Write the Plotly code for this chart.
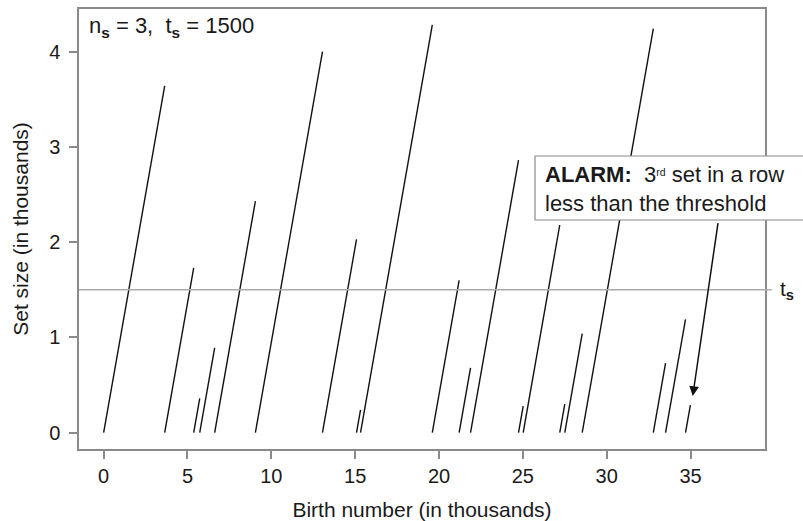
import numpy as np
import plotly.graph_objects as go

# Successive set sizes (thousands of births); each set starts where the previous ended
set_sizes = [3.64, 1.73, 0.36, 0.89, 2.43, 4.00, 2.03, 0.24, 4.28, 1.60,
             0.68, 2.86, 0.28, 2.18, 0.30, 1.04, 4.24, 0.73, 1.19, 0.29]
threshold = 1.5          # t_s in thousands
x_ticks = [0, 5, 10, 15, 20, 25, 30, 35]
y_ticks = [0, 1, 2, 3, 4]

starts = np.concatenate([[0.0], np.cumsum(set_sizes)[:-1]])

xs, ys = [], []
for s, n in zip(starts, set_sizes):
    xs += [s, s + n, None]
    ys += [0, n, None]

FONT = "Liberation Sans, Arial, sans-serif"
TXT = "#1a1a1a"
FRAME = "#8a8a8a"

fig = go.Figure()
fig.add_trace(go.Scatter(x=xs, y=ys, mode="lines",
                         line=dict(color="#111111", width=1.4),
                         showlegend=False, hoverinfo="skip"))

axis_common = dict(showline=True, mirror=True, linecolor=FRAME, linewidth=1.5,
                   ticks="outside", ticklen=8, tickwidth=1.5, tickcolor=FRAME,
                   showgrid=False, zeroline=False, automargin=False,
                   tickfont=dict(family=FONT, size=20, color=TXT))

fig.update_layout(
    width=803, height=521,
    margin=dict(l=79, r=38, t=9, b=72),
    paper_bgcolor="white", plot_bgcolor="white",
    xaxis=dict(range=[-1.47, 39.44], tickvals=x_ticks,
               title=dict(text="Birth number (in thousands)", standoff=20,
                          font=dict(family=FONT, size=21, color=TXT)),
               **axis_common),
    yaxis=dict(range=[-0.171, 4.447], tickvals=y_ticks,
               ticklabelstandoff=5,
               title=dict(text="Set size (in thousands)", standoff=15,
                          font=dict(family=FONT, size=21, color=TXT)),
               **axis_common),
)

# threshold line, running a little past the right frame
fig.add_shape(type="line", xref="paper", yref="y", x0=0, x1=1.0098,
              y0=threshold, y1=threshold,
              line=dict(color="#ababab", width=1.5))
fig.add_annotation(xref="paper", yref="y", x=1.019, y=threshold,
                   text="t<sub><b>s</b></sub>", showarrow=False,
                   xanchor="left", yanchor="middle",
                   font=dict(family=FONT, size=21, color=TXT))

# parameter label
fig.add_annotation(xref="paper", yref="paper", x=0.012, y=0.995,
                   text="n<sub><b>s</b></sub> = 3,&nbsp; t<sub><b>s</b></sub> = 1500",
                   showarrow=False, xanchor="left", yanchor="top",
                   font=dict(family=FONT, size=22, color=TXT))

# alarm arrow pointing at the third small set
fig.add_annotation(xref="x", yref="y", axref="x", ayref="y",
                   x=35.13, y=0.385, ax=36.65, ay=2.216,
                   text="", showarrow=True, arrowhead=2, arrowsize=1.3,
                   arrowwidth=1.5, arrowcolor="#111111", standoff=0)

# alarm box
fig.add_shape(type="rect", xref="paper", yref="paper",
              x0=(535 - 79) / 686, x1=(815 - 79) / 686,
              y0=(449 - 220) / 440, y1=(449 - 156) / 440,
              line=dict(color=FRAME, width=1.2), fillcolor="white", layer="above")
fig.add_annotation(xref="paper", yref="paper",
                   x=(543 - 79) / 686, y=(449 - 189) / 440,
                   text="<b>ALARM:</b>&nbsp; 3<span style='font-size:15px'><sup>rd</sup></span> set in a row<br>less than the threshold",
                   showarrow=False, xanchor="left", yanchor="middle", align="left",
                   font=dict(family=FONT, size=22, color=TXT))

fig.write_html("out.html")
